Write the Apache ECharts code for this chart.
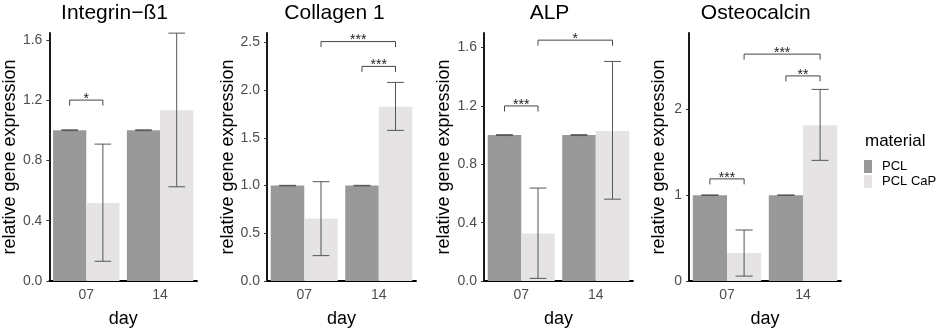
<!DOCTYPE html>
<html><head><meta charset="utf-8">
<script src="https://cdn.jsdelivr.net/npm/echarts@6/dist/echarts.min.js"></script>
<style>html,body{margin:0;padding:0;background:#fff}#c{width:941px;height:333px}</style>
</head><body><div id="c"></div>
<script>
// ---- data ----
const categories = ['07', '14'];
const geneTitles = ['Integrin−ß1', 'Collagen 1', 'ALP', 'Osteocalcin'];

const integrinPCL = [1.0, 1.0];
const integrinCaP = [0.518, 1.132];
const integrinCaPLow = [0.131, 0.625];
const integrinCaPHigh = [0.908, 1.644];
const integrinTicks = [0, 0.4, 0.8, 1.2, 1.6];

const collagenPCL = [1.0, 1.0];
const collagenCaP = [0.655, 1.827];
const collagenCaPLow = [0.266, 1.579];
const collagenCaPHigh = [1.041, 2.082];
const collagenTicks = [0, 0.5, 1.0, 1.5, 2.0, 2.5];

const alpPCL = [1.0, 1.0];
const alpCaP = [0.326, 1.029];
const alpCaPLow = [0.018, 0.561];
const alpCaPHigh = [0.637, 1.505];
const alpTicks = [0, 0.4, 0.8, 1.2, 1.6];

const osteoPCL = [1.0, 1.0];
const osteoCaP = [0.325, 1.816];
const osteoCaPLow = [0.057, 1.406];
const osteoCaPHigh = [0.594, 2.233];
const osteoTicks = [0, 1, 2];

const pclLow = [0.997, 0.997];
const pclHigh = [1.003, 1.003];

// significance brackets: [cat1, side1, cat2, side2, y]
const integrinSig = [[0, -1, 0, 1, 1.20]];
const integrinSigLabels = ['*'];
const collagenSig = [[0, 1, 1, 1, 2.51], [1, -1, 1, 1, 2.25]];
const collagenSigLabels = ['***', '***'];
const alpSig = [[0, 1, 1, 1, 1.651], [0, -1, 0, 1, 1.20]];
const alpSigLabels = ['*', '***'];
const osteoSig = [[0, 1, 1, 1, 2.644], [1, -1, 1, 1, 2.39], [0, -1, 0, 1, 1.19]];
const osteoSigLabels = ['***', '**', '***'];

// ---- layout ----
const panels = [
  {pcl: integrinPCL, cap: integrinCaP, lo: integrinCaPLow, hi: integrinCaPHigh, ticks: integrinTicks, max: 1.645, dec: 1, sig: integrinSig, sigL: integrinSigLabels,
   left: 49, width: 148, nameGap: 28, titleX: 114.5},
  {pcl: collagenPCL, cap: collagenCaP, lo: collagenCaPLow, hi: collagenCaPHigh, ticks: collagenTicks, max: 2.6, dec: 1, sig: collagenSig, sigL: collagenSigLabels,
   left: 267, width: 149, nameGap: 28, titleX: 334.5},
  {pcl: alpPCL, cap: alpCaP, lo: alpCaPLow, hi: alpCaPHigh, ticks: alpTicks, max: 1.70, dec: 1, sig: alpSig, sigL: alpSigLabels,
   left: 484, width: 149, nameGap: 31, titleX: 549.5},
  {pcl: osteoPCL, cap: osteoCaP, lo: osteoCaPLow, hi: osteoCaPHigh, ticks: osteoTicks, max: 2.89, dec: 0, sig: osteoSig, sigL: osteoSigLabels,
   left: 689, width: 152, nameGap: 21, titleX: 755.7}
];

const FONT = 'Liberation Sans, Arial, Helvetica, sans-serif';
const PCL_COLOR = '#999999';
const CAP_COLOR = '#e5e3e3';
const ERR_COLOR = '#555555';

const grid = [], xAxis = [], yAxis = [], series = [], graphic = [];

function errRender(params, api) {
  const cat = api.value(0), lo = api.value(1), hi = api.value(2), side = api.value(3);
  const band = api.size([1, 0])[0];
  const pLo = api.coord([cat, lo]);
  const pHi = api.coord([cat, hi]);
  const x = pLo[0] + side * band * 0.225;
  const hw = band * 0.45 * 0.25;
  const st = {stroke: ERR_COLOR, lineWidth: 1, fill: null};
  return {type: 'group', children: [
    {type: 'line', shape: {x1: x, y1: pLo[1], x2: x, y2: pHi[1]}, style: st},
    {type: 'line', shape: {x1: x - hw, y1: pHi[1], x2: x + hw, y2: pHi[1]}, style: st},
    {type: 'line', shape: {x1: x - hw, y1: pLo[1], x2: x + hw, y2: pLo[1]}, style: st}
  ]};
}

function makeSigRender(labels) {
  return function (params, api) {
    const c1 = api.value(0), s1 = api.value(1), c2 = api.value(2), s2 = api.value(3), y = api.value(4);
    const band = api.size([1, 0])[0];
    const p1 = api.coord([c1, y]);
    const p2 = api.coord([c2, y]);
    const x1 = p1[0] + s1 * band * 0.225;
    const x2 = p2[0] + s2 * band * 0.225;
    const yy = p1[1];
    const st = {stroke: '#444', lineWidth: 1, fill: null};
    return {type: 'group', children: [
      {type: 'polyline', shape: {points: [[x1, yy + 5.5], [x1, yy], [x2, yy], [x2, yy + 5.5]]}, style: st},
      {type: 'text', x: (x1 + x2) / 2, y: yy + 6, style: {text: labels[params.dataIndex], fill: '#222', font: '14px ' + FONT, align: 'center', verticalAlign: 'bottom'}}
    ]};
  };
}

panels.forEach((p, i) => {
  grid.push({left: p.left, top: 33, width: p.width, height: 252});
  xAxis.push({
    type: 'category', gridIndex: i, data: categories,
    name: 'day', nameLocation: 'middle', nameGap: 29,
    nameTextStyle: {fontSize: 18, color: '#000', fontFamily: FONT},
    axisLine: {lineStyle: {color: '#000', width: 1.8}},
    axisTick: {alignWithLabel: true, length: 3, lineStyle: {color: '#333'}},
    axisLabel: {fontSize: 14, color: '#4d4d4d', fontFamily: FONT, margin: 7}
  });
  const dec = p.dec;
  yAxis.push({
    type: 'value', gridIndex: i, min: 0, max: p.max,
    name: 'relative gene expression', nameLocation: 'middle', nameGap: p.nameGap,
    nameTextStyle: {fontSize: 18, color: '#000', fontFamily: FONT},
    axisLine: {show: true, lineStyle: {color: '#000', width: 1.8}},
    axisTick: {show: true, length: 3, lineStyle: {color: '#333'}, customValues: p.ticks},
    axisLabel: {fontSize: 14, color: '#4d4d4d', fontFamily: FONT, margin: 7, customValues: p.ticks,
      formatter: v => Number(v).toFixed(dec)},
    splitLine: {show: false}
  });
  series.push({
    type: 'bar', name: 'PCL', xAxisIndex: i, yAxisIndex: i, data: p.pcl,
    barWidth: '45%', barGap: '0%', itemStyle: {color: PCL_COLOR}
  });
  series.push({
    type: 'bar', name: 'PCL CaP', xAxisIndex: i, yAxisIndex: i, data: p.cap,
    barWidth: '45%', barGap: '0%', itemStyle: {color: CAP_COLOR}
  });
  const errData = [];
  categories.forEach((c, k) => {
    errData.push([k, pclLow[k], pclHigh[k], -1]);
    errData.push([k, p.lo[k], p.hi[k], 1]);
  });
  series.push({
    type: 'custom', xAxisIndex: i, yAxisIndex: i, renderItem: errRender, data: errData, z: 5,
    clip: false, silent: true
  });
  series.push({
    type: 'custom', xAxisIndex: i, yAxisIndex: i, renderItem: makeSigRender(p.sigL), data: p.sig, z: 6,
    clip: false, silent: true
  });
  graphic.push({type: 'text', x: p.titleX, y: 13, style: {text: geneTitles[i], font: '21px ' + FONT, fill: '#000', align: 'center', verticalAlign: 'middle'}});
});

graphic.push({type: 'text', x: 865, y: 141, style: {text: 'material', font: '17px ' + FONT, fill: '#000', align: 'left', verticalAlign: 'middle'}});

const chart = echarts.init(document.getElementById('c'), null, {renderer: 'canvas'});
chart.setOption({
  animation: false,
  backgroundColor: '#ffffff',
  textStyle: {fontFamily: FONT},
  grid, xAxis, yAxis, series, graphic,
  legend: {
    data: ['PCL', 'PCL CaP'], orient: 'vertical', left: 864, top: 160, padding: 0,
    itemWidth: 8, itemHeight: 13, itemGap: 2, icon: 'rect',
    textStyle: {fontSize: 13, color: '#000', fontFamily: FONT, padding: [0, 0, 0, 5]}
  }
});
</script></body></html>
